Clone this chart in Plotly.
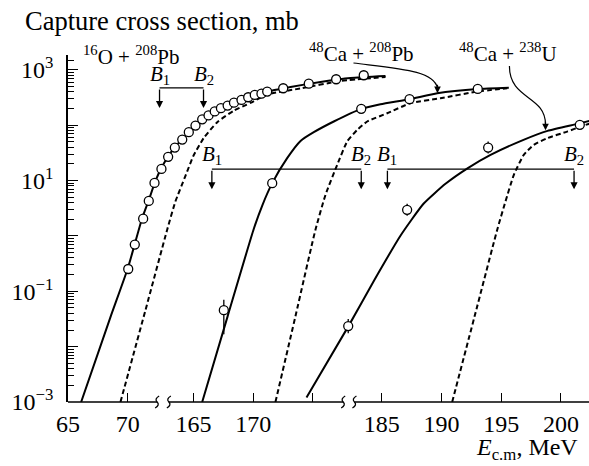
import math
import plotly.graph_objects as go

# ---- axis: compressed (broken) energy scale; tick positions and their MeV labels ----
tick_pos = [65, 70, 75.5, 80.5, 85.5, 91.25, 96.25, 101.25, 106.25]
tick_text = ["65", "70", "165", "170", "", "185", "190", "195", "200"]
x_range = [65, 108.6]
y_log_range = [-3, 3.27]

# ---- 16O + 208Pb ----
o_pts_x = [70.04, 70.59, 71.29, 71.76, 72.24, 72.82, 73.38, 73.94, 74.56, 75.11, 75.67, 76.23,
           76.76, 77.28, 77.80, 78.36, 78.89, 79.52, 80.08, 80.63, 81.19, 81.67, 83.01, 85.15,
           87.44, 89.75]
o_pts_y = [0.253, 0.70, 2.05, 4.3, 9.1, 16.3, 26.9, 39.6, 55.2, 75, 99, 128, 151, 178, 204, 227,
           256, 287, 321, 354, 373, 406, 467, 565, 679, 802]
o_fit_x = [66.10, 68.56, 70.02, 71.19, 71.74, 72.32, 72.91, 73.58, 74.41, 75.42, 76.51, 77.76,
           79.44, 81.53, 83.62, 86.13, 88.64, 91.57]
o_fit_y = [0.001, 0.0346, 0.267, 2.05, 4.32, 9.9, 18.5, 31.8, 52.2, 86, 136, 202, 287, 401, 493,
           607, 716, 778]
o_dash_x = [69.39, 71.49, 73.30, 73.98, 74.83, 75.50, 76.34, 77.51, 78.85, 80.27, 81.69, 84.46,
            87.80, 91.57]
o_dash_y = [0.001, 0.0462, 1.30, 4.15, 12.2, 28.1, 58.1, 115, 182, 254, 361, 463, 632, 746]

# ---- 48Ca + 208Pb ----
capb_pts_x = [78.04, 82.09, 89.54, 93.58, 99.29]
capb_pts_y = [0.0457, 9.0, 198, 296, 454]
capb_err_up = [0.025, 0, 0, 0, 0]
capb_err_dn = [0.029, 0, 0, 0, 0]
capb_fit_x = [76.23, 78.35, 80.55, 81.28, 82.09, 83.34, 84.46, 85.57, 87.24, 89.54, 91.15, 93.58,
              95.90, 99.29, 101.89]
capb_fit_y = [0.001, 0.0349, 1.35, 3.66, 9.0, 25.5, 52.2, 75, 117, 198, 240, 296, 380, 454, 479]
capb_dash_x = [82.36, 84.04, 85.71, 86.55, 87.53, 88.36, 89.20, 90.04, 91.71, 93.66, 96.17, 99.24,
               101.75]
capb_dash_y = [0.001, 0.0359, 1.30, 5.55, 19.3, 50.8, 82.6, 117, 165, 251, 308, 406, 467]

# ---- 48Ca + 238U ----
cau_pts_x = [88.45, 93.38, 100.16, 107.83]
cau_pts_y = [0.0235, 2.97, 39.6, 102]
cau_err_up = [0.008, 0.84, 11.2, 0]
cau_err_dn = [0.006, 0.65, 8.7, 0]
cau_fit_x = [84.96, 88.47, 90.65, 92.82, 94.75, 96.59, 98.43, 100.36, 103.12, 105.13, 107.64, 108.64]
cau_fit_y = [0.00121, 0.0235, 0.162, 1.01, 3.82, 8.77, 16.7, 29.2, 54.6, 79.3, 106, 120]
cau_dash_x = [97.15, 99.02, 100.92, 101.61, 102.31, 103.14, 103.98, 105.10, 106.77, 107.89, 108.72]
cau_dash_y = [0.001, 0.0349, 1.30, 4.2, 12.7, 29.2, 44.3, 58.5, 76.9, 94.8, 108]

# ---- barrier brackets: (B1 pos, B2 pos, bracket height in paper fraction) ----
brackets = [(72.66, 76.34, 0.905), (77.04, 89.54, 0.671), (91.73, 107.35, 0.671)]
bracket_label_y = [0.942, 0.712, 0.712]
axis_breaks = [(72.46, 73.44), (88.03, 88.97)]

FONT = "Liberation Serif"
BLACK = "black"

fig = go.Figure()


def line(x, y, dash=None):
    fig.add_trace(go.Scatter(x=x, y=y, mode="lines", hoverinfo="skip",
                             line=dict(color=BLACK, width=2, dash=dash, shape="spline",
                                       smoothing=0.5)))


def pts(x, y, up=None, dn=None):
    kw = {}
    if up is not None:
        kw["error_y"] = dict(type="data", array=up, arrayminus=dn, symmetric=False,
                             color=BLACK, thickness=1.3, width=0)
    fig.add_trace(go.Scatter(x=x, y=y, mode="markers", hoverinfo="skip",
                             marker=dict(symbol="circle", size=9, color="white",
                                         line=dict(color=BLACK, width=1.3)), **kw))


line(o_dash_x, o_dash_y, dash="5px,3px")
line(capb_dash_x, capb_dash_y, dash="5px,3px")
line(cau_dash_x, cau_dash_y, dash="5px,3px")
line(o_fit_x, o_fit_y)
line(capb_fit_x, capb_fit_y)
line(cau_fit_x, cau_fit_y)
pts(o_pts_x, o_pts_y)
pts(capb_pts_x, capb_pts_y, capb_err_up, capb_err_dn)
pts(cau_pts_x, cau_pts_y, cau_err_up, cau_err_dn)

shapes = []
annotations = []

# broken x-axis line
seg_edges = [x_range[0]] + [v for b in axis_breaks for v in b] + [x_range[1]]
for i in range(0, len(seg_edges), 2):
    shapes.append(dict(type="line", xref="x", yref="paper", x0=seg_edges[i], x1=seg_edges[i + 1],
                       y0=0, y1=0, line=dict(color=BLACK, width=1.5)))
for b in axis_breaks:
    for xb in b:
        shapes.append(dict(type="path", xref="x", yref="paper", xsizemode="pixel",
                           ysizemode="pixel", xanchor=xb, yanchor=0,
                           path="M -2,-6 Q 3,-3 0,0 Q -3,3 2,6",
                           line=dict(color=BLACK, width=1.3)))

# brackets with arrows
for (b1, b2, yb), ly in zip(brackets, bracket_label_y):
    shapes.append(dict(type="line", xref="x", yref="paper", x0=b1, x1=b2, y0=yb, y1=yb,
                       line=dict(color=BLACK, width=1.3)))
    for xb in (b1, b2):
        annotations.append(dict(x=xb, y=yb - 0.058, xref="x", yref="paper", ax=0, ay=-20,
                                showarrow=True, arrowhead=2, arrowsize=1.1, arrowwidth=1.3,
                                arrowcolor=BLACK, text=""))
    for xb, sub in ((b1, "1"), (b2, "2")):
        annotations.append(dict(x=xb, y=ly, xref="x", yref="paper", showarrow=False,
                                yanchor="middle", xanchor="center",
                                text="<i>B</i><sub>%s</sub>" % sub,
                                font=dict(family=FONT, size=21, color=BLACK)))

# reaction labels
labels = [(70.31, 0.9995, "<sup>16</sup>O + <sup>208</sup>Pb"),
          (89.60, 1.0065, "<sup>48</sup>Ca + <sup>208</sup>Pb"),
          (101.82, 1.0065, "<sup>48</sup>Ca + <sup>238</sup>U")]
for x, y, t in labels:
    annotations.append(dict(x=x, y=y, xref="x", yref="paper", showarrow=False, text=t,
                            yanchor="middle", xanchor="center",
                            font=dict(family=FONT, size=21, color=BLACK)))

# curved pointer arrows
shapes.append(dict(type="path", xref="x", yref="paper",
                   path="M 88.89,0.977 C 92.9,0.96 95.6,0.955 95.92,0.905",
                   line=dict(color=BLACK, width=1.2)))
annotations.append(dict(x=95.92, y=0.890, xref="x", yref="paper", ax=0, ay=-10, showarrow=True,
                        arrowhead=2, arrowsize=1.1, arrowwidth=1.2, arrowcolor=BLACK, text=""))
shapes.append(dict(type="path", xref="x", yref="paper",
                   path="M 101.94,0.968 C 101.94,0.87 104.96,0.885 104.96,0.80",
                   line=dict(color=BLACK, width=1.2)))
annotations.append(dict(x=104.96, y=0.783, xref="x", yref="paper", ax=0, ay=-10, showarrow=True,
                        arrowhead=2, arrowsize=1.1, arrowwidth=1.2, arrowcolor=BLACK, text=""))

# x-axis title
annotations.append(dict(x=103.45, y=-0.135, xref="x", yref="paper", showarrow=False,
                        yanchor="middle", xanchor="center",
                        text="<i>E</i><sub>c.m</sub>, MeV",
                        font=dict(family=FONT, size=24, color=BLACK)))

y_major = [10 ** k for k in range(-3, 4)]
y_text = ["10<sup>−3</sup>", "", "10<sup>−1</sup>", "", "10<sup>1</sup>", "", "10<sup>3</sup>"]
y_minor = [m * 10 ** k for k in range(-3, 3) for m in range(2, 10)] + [1000 * m for m in (1.5, 2)]

fig.update_layout(
    width=589, height=466,
    margin=dict(l=68, r=0, t=55, b=64),
    paper_bgcolor="white", plot_bgcolor="white",
    showlegend=False,
    font=dict(family=FONT, color=BLACK, size=24),
    title=dict(text="Capture cross section, mb", x=25 / 589, xanchor="left", xref="container",
               y=1 - 21 / 466, yanchor="middle", yref="container",
               font=dict(family=FONT, size=26.5, color=BLACK)),
    xaxis=dict(range=x_range, tickvals=tick_pos, ticktext=tick_text, ticks="inside",
               ticklen=9, tickwidth=1.3, tickcolor=BLACK, showline=False, showgrid=False,
               zeroline=False, ticklabelstandoff=5,
               tickfont=dict(family=FONT, size=24, color=BLACK)),
    yaxis=dict(type="log", range=y_log_range, tickvals=y_major, ticktext=y_text,
               ticks="inside", ticklen=10, tickwidth=1.3, tickcolor=BLACK, showline=True,
               linecolor=BLACK, linewidth=1.5, showgrid=False, zeroline=False,
               ticklabelstandoff=8,
               tickfont=dict(family=FONT, size=24, color=BLACK),
               minor=dict(tickvals=y_minor, ticks="inside", ticklen=6, tickwidth=1,
                          tickcolor=BLACK, showgrid=False)),
    shapes=shapes, annotations=annotations,
)

fig.write_html("out.html")
